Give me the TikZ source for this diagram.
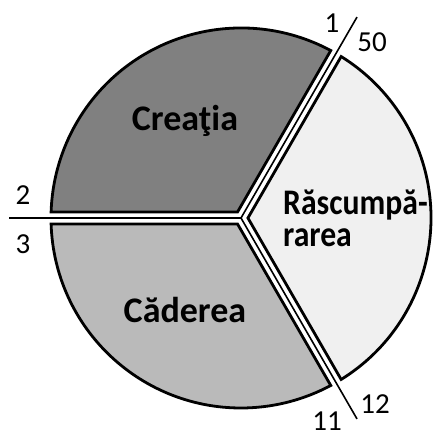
\documentclass[tikz,border=0pt]{standalone}
\usepackage{fontspec}
\setmainfont{Carlito}
\newfontfamily\narrowfont[FakeStretch=0.88]{Carlito}
\usetikzlibrary{calc}

\begin{document}
\begin{tikzpicture}[x=1pt,y=1pt,
		sector/.style={draw=black, line width=2.8pt, line join=miter},
		divider/.style={draw=black, line width=1.6pt},
		title/.style={font=\bfseries\fontsize{36}{32}\selectfont, anchor=base},
		num/.style={font=\fontsize{29}{30}\selectfont, anchor=base}]

	\def\R{190}
	\def\dg{1.81}
	\def\tip{6.93}

	\useasboundingbox (-241,-212) rectangle (194,218);

	\coordinate (O) at (0,0);
	\coordinate (endtop) at (60:232);
	\coordinate (endleft) at (180:232);
	\coordinate (endlow) at (-60:232);

	\filldraw[sector, fill=black!50] (120:\tip) -- (60+\dg:\R) arc[start angle=60+\dg, end angle=180-\dg, radius=\R] -- cycle;
	\filldraw[sector, fill=black!27] (240:\tip) -- (180+\dg:\R) arc[start angle=180+\dg, end angle=300-\dg, radius=\R] -- cycle;
	\filldraw[sector, fill=black!6] (0:\tip) -- (-60+\dg:\R) arc[start angle=-60+\dg, end angle=60-\dg, radius=\R] -- cycle;

	\draw[divider] (O) -- (endtop);
	\draw[divider] (O) -- (endleft);
	\draw[divider] (O) -- (endlow);

	\node[title] (creatia) at (-56,87) {Creaţia};
	\node[title] (caderea) at (-56,-104) {Căderea};
	\node[title, font=\narrowfont\bfseries\fontsize{36}{32}\selectfont, anchor=base west, align=left, inner sep=0pt] (rascumpararea) at (42,-29) {Răscumpă-\\rarea};

	\node[num] (n1) at (91,185) {1};
	\node[num] (n50) at (131,166) {50};
	\node[num] (n2) at (-218,13) {2};
	\node[num] (n3) at (-218,-35) {3};
	\node[num] (n12) at (134,-195) {12};
	\node[num] (n11) at (86,-212) {11};
\end{tikzpicture}
\end{document}
